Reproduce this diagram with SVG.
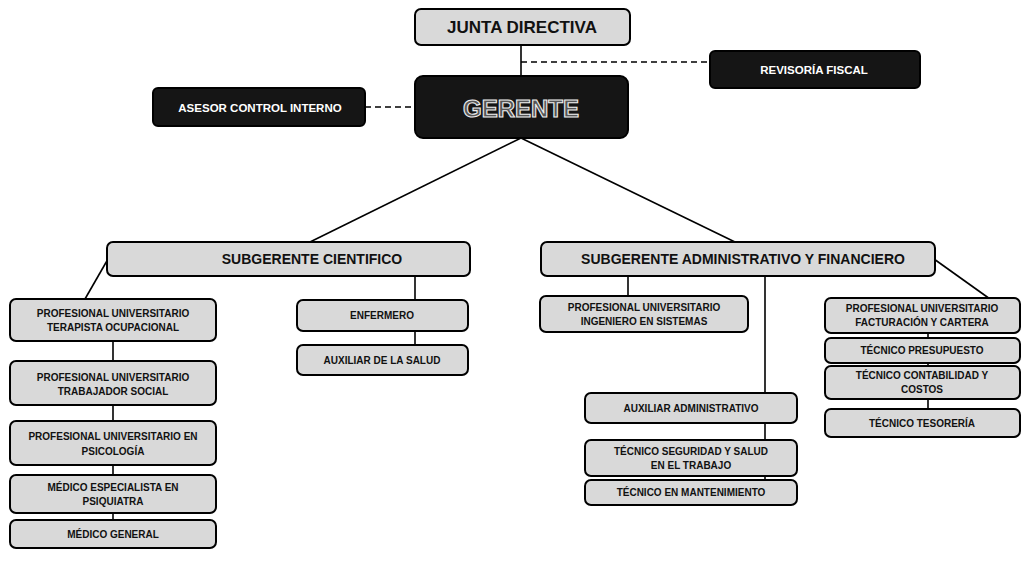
<svg xmlns="http://www.w3.org/2000/svg" width="1028" height="569" viewBox="0 0 1028 569">
<style>
.box{fill:#d9d9d9;stroke:#000;stroke-width:2}
.dark{fill:#151515;stroke:#000;stroke-width:2}
.t{font-family:"Liberation Sans",Arial,sans-serif;font-weight:bold;text-anchor:middle;fill:#111}
.s{font-size:10px}
.w{fill:#fff;font-size:11.5px}
.big{font-size:14px}
.ln{stroke:#000;stroke-width:1.6;fill:none}
.dash{stroke:#000;stroke-width:1.6;fill:none;stroke-dasharray:6 4}
</style>
<rect width="1028" height="569" fill="#fff"/>
<g id="connectors">
<line class="ln" x1="521" y1="45" x2="521" y2="76"/>
<line class="dash" x1="521" y1="62" x2="710" y2="62"/>
<line class="dash" x1="365" y1="107" x2="415" y2="107"/>
<line class="ln" x1="521" y1="138" x2="310" y2="242"/>
<line class="ln" x1="521" y1="138" x2="735" y2="242"/>
<line class="ln" x1="108" y1="259" x2="85" y2="299"/>
<line class="ln" x1="113" y1="342" x2="113" y2="520"/>
<line class="ln" x1="415" y1="276" x2="415" y2="345"/>
<line class="ln" x1="628" y1="276" x2="628" y2="296"/>
<line class="ln" x1="765" y1="276" x2="765" y2="480"/>
<line class="ln" x1="934" y1="259" x2="990" y2="299"/>
<line class="ln" x1="928" y1="333" x2="928" y2="410"/>
</g>
<g id="junta">
<rect class="box" x="415" y="9" width="215" height="36" rx="6"/>
<text class="t" x="522" y="33" font-size="17">JUNTA DIRECTIVA</text>
</g>
<g id="revisoria">
<rect class="dark" x="710" y="51" width="210" height="37" rx="5"/>
<text class="t w" x="814" y="74">REVISORÍA FISCAL</text>
</g>
<g id="gerente">
<rect class="dark" x="415" y="76" width="213" height="62" rx="8"/>
<text class="t" x="521" y="117" font-size="24" fill="#555" stroke="#eee" stroke-width="1.1" style="fill:#555">GERENTE</text>
</g>
<g id="asesor">
<rect class="dark" x="153" y="88" width="212" height="38" rx="5"/>
<text class="t w" x="260" y="112">ASESOR CONTROL INTERNO</text>
</g>
<g id="sub-cientifico">
<rect class="box" x="107" y="242" width="363" height="34" rx="6"/>
<text class="t big" x="312" y="264">SUBGERENTE CIENTIFICO</text>
</g>
<g id="sub-admin">
<rect class="box" x="541" y="242" width="394" height="34" rx="6"/>
<text class="t big" x="743" y="264">SUBGERENTE ADMINISTRATIVO Y FINANCIERO</text>
</g>
<g id="terapista">
<rect class="box" x="10" y="299" width="206" height="42" rx="6"/>
<text class="t s" x="113" y="317">PROFESIONAL UNIVERSITARIO</text>
<text class="t s" x="113" y="331">TERAPISTA OCUPACIONAL</text>
</g>
<g id="trabajador">
<rect class="box" x="10" y="361" width="206" height="44" rx="6"/>
<text class="t s" x="113" y="381">PROFESIONAL UNIVERSITARIO</text>
<text class="t s" x="113" y="395">TRABAJADOR SOCIAL</text>
</g>
<g id="psicologia">
<rect class="box" x="10" y="421" width="206" height="44" rx="6"/>
<text class="t s" x="113" y="440">PROFESIONAL UNIVERSITARIO EN</text>
<text class="t s" x="113" y="455">PSICOLOGÍA</text>
</g>
<g id="psiquiatra">
<rect class="box" x="10" y="475" width="206" height="38" rx="6"/>
<text class="t s" x="113" y="491">MÉDICO ESPECIALISTA EN</text>
<text class="t s" x="113" y="505">PSIQUIATRA</text>
</g>
<g id="medico-general">
<rect class="box" x="10" y="520" width="206" height="28" rx="6"/>
<text class="t s" x="113" y="538">MÉDICO GENERAL</text>
</g>
<g id="enfermero">
<rect class="box" x="297" y="300" width="171" height="31" rx="6"/>
<text class="t s" x="382" y="319">ENFERMERO</text>
</g>
<g id="auxiliar-salud">
<rect class="box" x="297" y="345" width="171" height="30" rx="6"/>
<text class="t s" x="382" y="364">AUXILIAR DE LA SALUD</text>
</g>
<g id="ingeniero">
<rect class="box" x="540" y="296" width="208" height="36" rx="6"/>
<text class="t s" x="644" y="311">PROFESIONAL UNIVERSITARIO</text>
<text class="t s" x="644" y="325">INGENIERO EN SISTEMAS</text>
</g>
<g id="auxiliar-admin">
<rect class="box" x="585" y="393" width="212" height="30" rx="6"/>
<text class="t s" x="691" y="412">AUXILIAR ADMINISTRATIVO</text>
</g>
<g id="seguridad">
<rect class="box" x="585" y="440" width="212" height="36" rx="6"/>
<text class="t s" x="691" y="455">TÉCNICO SEGURIDAD Y SALUD</text>
<text class="t s" x="691" y="469">EN EL TRABAJO</text>
</g>
<g id="mantenimiento">
<rect class="box" x="585" y="480" width="212" height="25" rx="6"/>
<text class="t s" x="691" y="496">TÉCNICO EN MANTENIMIENTO</text>
</g>
<g id="facturacion">
<rect class="box" x="825" y="298" width="195" height="35" rx="6"/>
<text class="t s" x="922" y="312">PROFESIONAL UNIVERSITARIO</text>
<text class="t s" x="922" y="326">FACTURACIÓN Y CARTERA</text>
</g>
<g id="presupuesto">
<rect class="box" x="825" y="338" width="195" height="25" rx="6"/>
<text class="t s" x="922" y="354">TÉCNICO PRESUPUESTO</text>
</g>
<g id="contabilidad">
<rect class="box" x="825" y="366" width="195" height="33" rx="6"/>
<text class="t s" x="922" y="379">TÉCNICO CONTABILIDAD Y</text>
<text class="t s" x="922" y="393">COSTOS</text>
</g>
<g id="tesoreria">
<rect class="box" x="825" y="409" width="195" height="28" rx="6"/>
<text class="t s" x="922" y="427">TÉCNICO TESORERÍA</text>
</g>
</svg>
